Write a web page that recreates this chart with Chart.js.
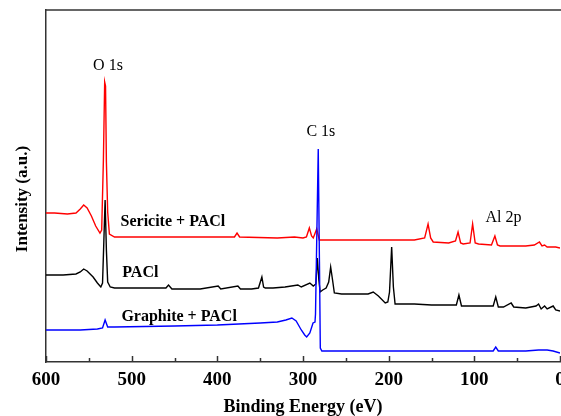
<!DOCTYPE html>
<html>
<head>
<meta charset="utf-8">
<script src="https://cdn.jsdelivr.net/npm/chart.js@4.4.0/dist/chart.umd.min.js"></script>
<style>
  html, body { margin: 0; padding: 0; background: #fff; }
  #wrap { width: 561px; height: 416px; }
</style>
</head>
<body>
<div id="wrap"><canvas id="xpsChart" width="561" height="416"></canvas></div>
<script>
// binding energy (eV) and intensity (a.u., offset traces)
const sericiteEnergy = [600, 590, 575, 565, 560, 556, 552, 547, 542, 537, 535, 533, 531.5, 530.5, 529.5, 528, 526, 520, 480, 400, 380, 377, 374, 330, 310, 300, 296, 292.6, 290, 288, 284, 281, 278, 250, 200, 170, 158, 154, 151, 148, 130, 122, 119, 116, 113, 105, 102, 99, 95, 80, 76, 73, 70, 40, 30, 24, 21, 18, 15, 5, 0];
const sericiteCounts = [149, 149, 148, 149, 153, 157, 154, 146, 136, 129, 132, 202, 280, 276, 200, 150, 128, 125, 125, 125, 125, 129, 125, 124, 125, 124, 125, 134, 126, 124, 133, 122, 122, 122, 122, 122, 124, 138, 124, 120, 119, 121, 130, 119, 118, 119, 138, 119, 118, 117, 126, 117, 116, 116, 117, 120, 116, 117, 115, 115, 114];

const paclEnergy = [600, 580, 565, 560, 556, 552, 545, 540, 536, 534, 532.5, 531, 529.5, 528, 525, 520, 500, 460, 457, 453, 420, 399, 396, 376, 373, 360, 352, 348, 346, 344, 335, 321, 306, 302, 292, 288, 285, 283.3, 281.5, 280, 277, 273, 270, 267.7, 265.5, 263.4, 255, 240, 224, 218, 212, 204, 201, 199, 196.5, 194.5, 192.5, 170, 150, 121, 118, 115, 110, 90, 78, 75, 72, 66, 57, 54, 40, 28, 25, 22, 18, 15, 8, 5, 0];
const paclCounts = [87, 87, 88, 90, 93, 91, 85, 79, 75, 79, 120, 162, 112, 80, 75, 74, 74, 74, 77, 73, 73, 76, 73, 76, 73, 73, 74, 85, 75, 74, 74, 75, 77, 75, 79, 76, 78, 104, 82, 70, 72, 74, 80, 95, 82, 69, 68, 68, 68, 70, 66, 59, 60, 70, 115, 75, 58, 58, 57, 57, 67, 56, 56, 56, 56, 65, 55, 55, 59, 55, 54, 56, 58, 53, 56, 53, 56, 52, 51];

const graphiteEnergy = [600, 560, 540, 534, 531, 528, 520, 450, 400, 350, 330, 320, 313, 308, 302, 298, 295.7, 292, 288.3, 286, 285.4, 282.2, 280.8, 279.8, 278, 200, 100, 78, 75, 72, 40, 25, 15, 8, 0];
const graphiteCounts = [32, 32, 33, 34, 42, 35, 35, 36, 37, 39, 40, 42, 44, 41, 32, 27, 25, 29, 39, 40, 48, 213, 100, 14, 11, 11, 11, 11, 15, 11, 11, 12, 12, 11, 9];

const energyTicks = [600, 550, 500, 450, 400, 350, 300, 250, 200, 150, 100, 50, 0];

const serif = '"Liberation Serif", "Times New Roman", serif';

// labels placed in data coordinates: [text, energy, intensity, bold]
const peakLabels = [
  ['O 1s', 545, 296, false],
  ['C 1s', 296, 230, false],
  ['Al 2p', 87, 144, false],
  ['Sericite + PACl', 513, 140, true],
  ['PACl', 511, 89, true],
  ['Graphite + PACl', 512, 45, true]
];

const decorPlugin = {
  id: 'decor',
  afterDraw(chart) {
    const { ctx, chartArea } = chart;
    const xs = chart.scales.x;
    const ys = chart.scales.y;
    ctx.save();
    // top frame line
    ctx.strokeStyle = '#333';
    ctx.lineWidth = 1.5;
    ctx.beginPath();
    ctx.moveTo(chartArea.left, chartArea.top);
    ctx.lineTo(chartArea.right + 1, chartArea.top);
    ctx.stroke();
    // inward tick marks
    energyTicks.forEach(v => {
      const px = Math.round(xs.getPixelForValue(v)) + 0.5;
      const len = v % 100 === 0 ? 6 : 4;
      ctx.beginPath();
      ctx.moveTo(px, chartArea.bottom);
      ctx.lineTo(px, chartArea.bottom - len);
      ctx.stroke();
    });
    // peak and series labels
    ctx.fillStyle = '#000';
    ctx.textBaseline = 'middle';
    peakLabels.forEach(([text, e, val, bold]) => {
      ctx.font = bold ? 'bold 16px ' + serif : '16px ' + serif;
      ctx.fillText(text, xs.getPixelForValue(e), ys.getPixelForValue(val));
    });
    // y axis title
    ctx.translate(23, 199);
    ctx.rotate(-Math.PI / 2);
    ctx.textAlign = 'center';
    ctx.font = 'bold 17px ' + serif;
    ctx.fillText('Intensity (a.u.)', 0, 0);
    ctx.restore();
  }
};

function toPoints(xs, ys) {
  return xs.map((x, i) => ({ x: x, y: ys[i] }));
}

const ctx = document.getElementById('xpsChart').getContext('2d');
new Chart(ctx, {
  type: 'line',
  data: {
    datasets: [
      { label: 'Sericite + PACl', data: toPoints(sericiteEnergy, sericiteCounts), borderColor: '#ff0000', order: 3 },
      { label: 'PACl', data: toPoints(paclEnergy, paclCounts), borderColor: '#000000', order: 2 },
      { label: 'Graphite + PACl', data: toPoints(graphiteEnergy, graphiteCounts), borderColor: '#0000ff', order: 1 }
    ]
  },
  options: {
    responsive: false,
    animation: false,
    layout: { padding: { top: 10, right: 1, left: 0, bottom: 0 } },
    elements: {
      line: { borderWidth: 1.4, tension: 0, fill: false },
      point: { radius: 0 }
    },
    plugins: {
      legend: { display: false },
      tooltip: { enabled: false }
    },
    scales: {
      x: {
        type: 'linear',
        reverse: true,
        min: 0,
        max: 600,
        grid: { display: false, drawTicks: false },
        border: { display: true, color: '#333', width: 1.5 },
        ticks: {
          stepSize: 100,
          padding: 7,
          color: '#000',
          maxRotation: 0,
          font: { family: serif, size: 19, weight: 'bold' }
        },
        title: {
          display: true,
          text: 'Binding Energy (eV)',
          color: '#000',
          padding: { top: 0, bottom: 0 },
          font: { family: serif, size: 18, weight: 'bold', lineHeight: 1 }
        },
        afterFit(scale) {
          scale.height = 54;
          scale.paddingLeft = 0;
          scale.paddingRight = 0;
        }
      },
      y: {
        min: 0,
        max: 352,
        grid: { display: false, drawTicks: false },
        border: { display: true, color: '#333', width: 1.5 },
        ticks: { display: false },
        afterFit(scale) {
          scale.width = 46;
        }
      }
    }
  },
  plugins: [decorPlugin]
});
</script>
</body>
</html>
